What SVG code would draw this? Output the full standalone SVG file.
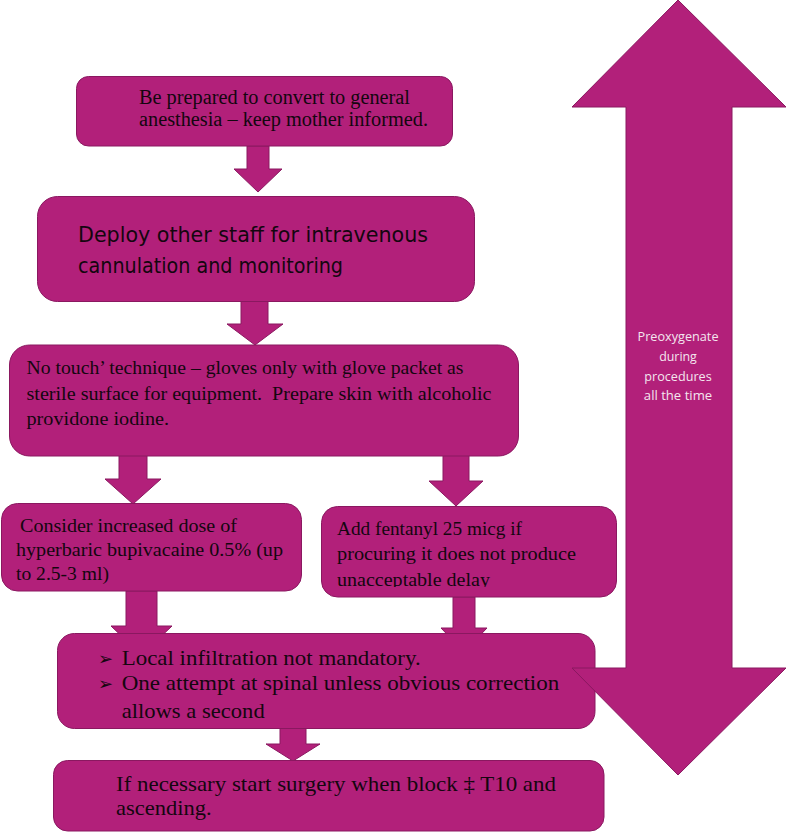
<svg xmlns="http://www.w3.org/2000/svg" width="787" height="833" viewBox="0 0 787 833">
<style>
.box{fill:#B2207A;stroke:#8A1860;stroke-width:1}
.arr{fill:#B2207A;stroke:#8A1860;stroke-width:1}
.serif{font-family:"Liberation Serif","Times New Roman",serif;fill:#14060F}
.comic{font-family:"DejaVu Sans","Liberation Sans",sans-serif;fill:#14060F}
.light{font-family:"Open Sans","Liberation Sans",sans-serif;font-size:12px;fill:#F4E6EF;text-anchor:middle}
.bul{font-family:"DejaVu Sans",sans-serif;font-size:18px;fill:#14060F}
</style>
<defs>
<clipPath id="clip4b"><rect x="322" y="507" width="295" height="80"/></clipPath>
</defs>
<rect width="787" height="833" fill="#ffffff"/>
<g id="connectors">
<polygon class="arr" points="247,146 269,146 269,169 282,169 258,192 234,169 247,169"/>
<polygon class="arr" points="241,301 268,301 268,324 283,324 255,345 227,324 241,324"/>
<polygon class="arr" points="119,452 147,452 147,479 161,479 133,504 105,479 119,479"/>
<polygon class="arr" points="443,455 469,455 469,481 483,481 456,506 429,481 443,481"/>
<polygon class="arr" points="126,591 157,591 157,626 172,626 141.5,655 111,626 126,626"/>
<polygon class="arr" points="453,597 475,597 475,628 487,628 464,652 441,628 453,628"/>
<polygon class="arr" points="280,728 306,728 306,744 320,744 293,761 266,744 280,744"/>
</g>
<g id="node1">
<rect class="box" x="76.5" y="76.5" width="376" height="69.5" rx="12"/>
<text class="serif" font-size="20" x="139" y="103.5" textLength="271" lengthAdjust="spacingAndGlyphs">Be prepared to convert to general</text>
<text class="serif" font-size="20" x="139" y="126" textLength="289" lengthAdjust="spacingAndGlyphs">anesthesia – keep mother informed.</text>
</g>
<g id="node2">
<rect class="box" x="37.5" y="196.5" width="437" height="105" rx="20"/>
<text class="comic" font-size="20.5" x="78" y="242" textLength="350" lengthAdjust="spacingAndGlyphs">Deploy other staff for intravenous</text>
<text class="comic" font-size="20.5" x="78" y="273" textLength="265" lengthAdjust="spacingAndGlyphs">cannulation and monitoring</text>
</g>
<g id="node3">
<rect class="box" x="9.5" y="345" width="509" height="111" rx="20"/>
<text class="serif" font-size="19.5" x="26.5" y="374" textLength="437" lengthAdjust="spacingAndGlyphs">No touch’ technique – gloves only with glove packet as</text>
<text class="serif" font-size="19.5" x="26.5" y="400" textLength="465" lengthAdjust="spacingAndGlyphs" xml:space="preserve">sterile surface for equipment.  Prepare skin with alcoholic</text>
<text class="serif" font-size="19.5" x="26.5" y="425" textLength="142.5" lengthAdjust="spacingAndGlyphs">providone iodine.</text>
</g>
<g id="node4a">
<rect class="box" x="1.5" y="503.5" width="300" height="87.5" rx="16"/>
<text class="serif" font-size="19" x="20" y="532" textLength="217" lengthAdjust="spacingAndGlyphs">Consider increased dose of</text>
<text class="serif" font-size="19" x="16" y="556" textLength="267" lengthAdjust="spacingAndGlyphs">hyperbaric bupivacaine 0.5% (up</text>
<text class="serif" font-size="19" x="16" y="580" textLength="93" lengthAdjust="spacingAndGlyphs">to 2.5-3 ml)</text>
</g>
<g id="node4b">
<rect class="box" x="321.5" y="506.5" width="295" height="90.5" rx="16"/>
<g clip-path="url(#clip4b)">
<text class="serif" font-size="19" x="337" y="535" textLength="185" lengthAdjust="spacingAndGlyphs">Add fentanyl 25 micg if</text>
<text class="serif" font-size="19" x="337" y="560" textLength="239" lengthAdjust="spacingAndGlyphs">procuring it does not produce</text>
<text class="serif" font-size="19" x="337" y="585.5" textLength="153" lengthAdjust="spacingAndGlyphs">unacceptable delay</text>
</g>
</g>
<g id="node5">
<rect class="box" x="57.5" y="633.5" width="537.5" height="95" rx="17"/>
<text class="bul" x="98" y="665">➢</text>
<text class="bul" x="98" y="690">➢</text>
<text class="serif" font-size="21" x="121.7" y="665" textLength="299" lengthAdjust="spacingAndGlyphs">Local infiltration not mandatory.</text>
<text class="serif" font-size="21" x="121.7" y="690" textLength="437.6" lengthAdjust="spacingAndGlyphs">One attempt at spinal unless obvious correction</text>
<text class="serif" font-size="21" x="121.7" y="717.7" textLength="143" lengthAdjust="spacingAndGlyphs">allows a second</text>
</g>
<g id="node6">
<rect class="box" x="53.5" y="760.5" width="550.5" height="70.5" rx="14"/>
<text class="serif" font-size="21" x="116" y="790.5" textLength="440" lengthAdjust="spacingAndGlyphs">If necessary start surgery when block ‡ T10 and</text>
<text class="serif" font-size="21" x="116" y="815" textLength="95.7" lengthAdjust="spacingAndGlyphs">ascending.</text>
</g>
<g id="node-preoxygenate">
<polygon class="arr" points="678,0 786,107 732,107 732,668 786,668 678,775 572,668 626,668 626,107 572,107"/>
<text class="light" x="678" y="341" textLength="81" lengthAdjust="spacingAndGlyphs">Preoxygenate</text>
<text class="light" x="678" y="361" textLength="37.7" lengthAdjust="spacingAndGlyphs">during</text>
<text class="light" x="678" y="381" textLength="67.3" lengthAdjust="spacingAndGlyphs">procedures</text>
<text class="light" x="678" y="400" textLength="68.3" lengthAdjust="spacingAndGlyphs">all the time</text>
</g>
</svg>
